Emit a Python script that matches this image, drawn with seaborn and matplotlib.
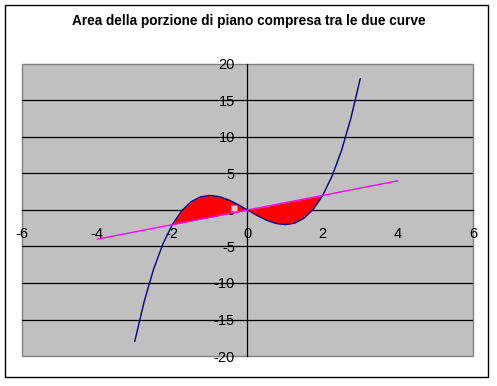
import matplotlib
matplotlib.use("Agg")
import matplotlib.pyplot as plt
import seaborn as sns
import numpy as np
import pandas as pd
from matplotlib.patches import Rectangle

# Data
curve_x = [-3.0, -2.75, -2.5, -2.25, -2.0, -1.75, -1.5, -1.25, -1.0, -0.75, -0.5, -0.25,
           0.0, 0.25, 0.5, 0.75, 1.0, 1.25, 1.5, 1.75, 2.0, 2.25, 2.5, 2.75, 3.0]
curve_y = [-18.0, -12.55, -8.13, -4.64, -2.0, -0.11, 1.13, 1.80, 2.0, 1.83, 1.38, 0.73,
           0.0, -0.73, -1.38, -1.83, -2.0, -1.80, -1.13, 0.11, 2.0, 4.64, 8.13, 12.55, 18.0]
line_x = [-4.0, 4.0]
line_y = [-4.0, 4.0]
marker_x = [-0.35]
marker_y = [0.3]
x_ticks = [-6, -4, -2, 0, 2, 4, 6]
y_ticks = [-20, -15, -10, -5, 0, 5, 10, 15, 20]
title = "Area della porzione di piano compresa tra le due curve"

sns.set_style("white")
plt.rcParams['font.family'] = ['Liberation Sans', 'DejaVu Sans']

fig = plt.figure(figsize=(4.97, 3.86), dpi=100)
ax = fig.add_axes([22/497, 1 - 356/386, (473-22)/497, (356-64)/386])

df_c = pd.DataFrame({"x": curve_x, "y": curve_y})
df_l = pd.DataFrame({"x": line_x, "y": line_y})

# red area between curve and line for x in [-2, 2]
cx = np.array(curve_x); cy = np.array(curve_y)
mask = (cx >= -2) & (cx <= 2)
ly = np.interp(cx[mask], line_x, line_y)
ax.fill_between(cx[mask], cy[mask], ly, color="#FF0000", lw=0, zorder=3)

sns.lineplot(data=df_c, x="x", y="y", ax=ax, color="#000080", lw=1.0, sort=False, zorder=4)
sns.lineplot(data=df_l, x="x", y="y", ax=ax, color="#FF00FF", lw=1.0, sort=False, zorder=5)
ax.scatter(marker_x, marker_y, marker="s", s=18, facecolor="#F2C4C4", edgecolor="#E06060", lw=0.6, zorder=6)

ax.set_xlim(-6, 6)
ax.set_ylim(-20, 20)
ax.set_facecolor("#C0C0C0")
ax.patch.set_edgecolor("#808080")
ax.patch.set_linewidth(1.0)

for yv in y_ticks[1:-1]:
    if yv != 0:
        ax.axhline(yv, color="black", lw=0.9, zorder=1)

ax.spines['left'].set_position(('data', 0))
ax.spines['bottom'].set_position(('data', 0))
ax.spines['top'].set_visible(False)
ax.spines['right'].set_visible(False)
for s in ('left', 'bottom'):
    ax.spines[s].set_color("black")
    ax.spines[s].set_linewidth(0.9)
    ax.spines[s].set_zorder(2)

ax.set_xticks(x_ticks)
ax.set_yticks(y_ticks)
ax.set_xticklabels([str(v) for v in x_ticks])
ax.set_yticklabels([str(v) for v in y_ticks])
ax.tick_params(axis='both', direction='out', length=3, width=0.8, labelsize=10.5, colors="black")
ax.tick_params(axis='x', pad=9)
ax.tick_params(axis='y', pad=6)
ax.set_xlabel("")
ax.set_ylabel("")

fig.text(0.5, 1 - 21/386, title, ha='center', va='center', fontsize=9.8, fontweight='bold', color='black')

fig.patches.append(Rectangle((5/497, 1 - 377/386), (488-5)/497, (377-5)/386,
                             transform=fig.transFigure, fill=False, edgecolor="black", lw=1.0))

fig.savefig("out.png", dpi=100, facecolor="white")
